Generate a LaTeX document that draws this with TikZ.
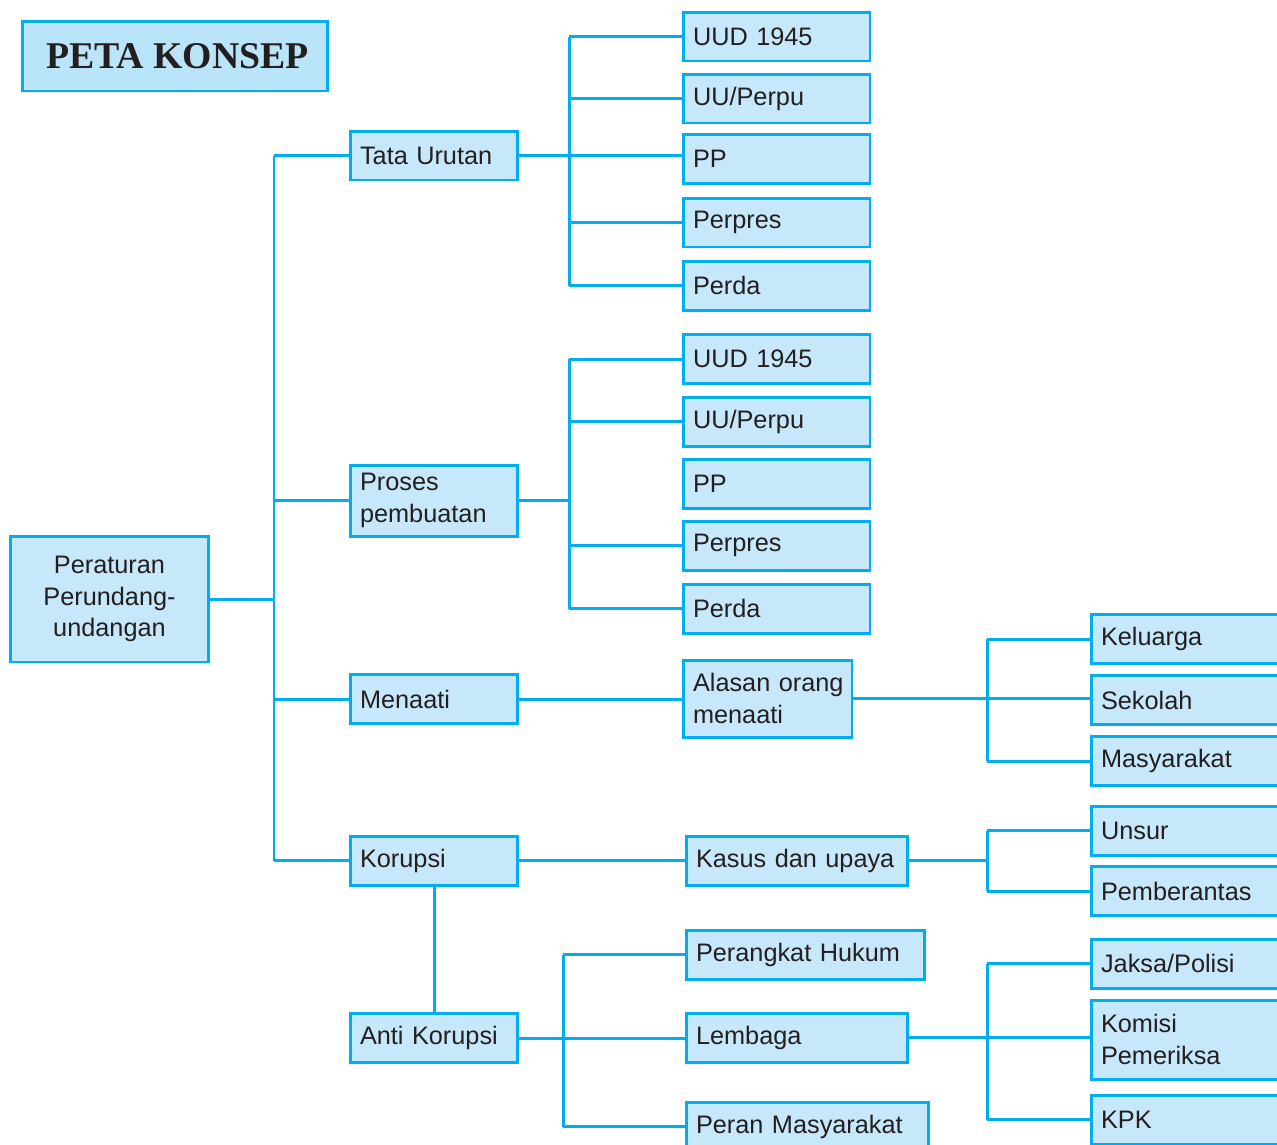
\documentclass[tikz,border=0pt]{standalone}
\usepackage{fontspec}
\setmainfont{Liberation Sans}
\newfontfamily\titlefont{Liberation Serif}
\definecolor{kbiru}{HTML}{00AEEF}
\definecolor{kisi}{HTML}{C6E8FA}
\definecolor{kjudul}{HTML}{BAE5F9}
\definecolor{kteks}{HTML}{231F20}

\begin{document}
\begin{tikzpicture}[x=0.02cm,y=-0.02cm,
	kotak/.style={draw=kbiru,fill=kisi,line width=1.7pt,inner xsep=0.2cm,inner ysep=0pt,
		align=left,text=kteks,font=\fontsize{14.4}{18}\selectfont,minimum height=0.98cm},
	garis/.style={draw=kbiru,line width=1.7pt}]

		\useasboundingbox (0,0) rectangle (1277,1144);
		\clip (0,0) rectangle (1277,1144);

		%------------------------------------------------------
		\node[draw=kbiru,fill=kjudul,line width=1.7pt,minimum width=6.12cm,minimum height=1.4cm,
			text=kteks,font=\titlefont\bfseries\fontsize{21.5}{24}\selectfont] (judul) at (175,56) {\hspace{0.1cm}PETA KONSEP};
		\node[kotak,align=center,text width=3.58cm,minimum height=2.52cm] (akar) at (109.5,599) {Peraturan\\Perundang-\\undangan};
		%------------------------------------------------------


		%------------------------------------------------------
		\node[kotak,text width=2.96cm] (tata) at (434,155.5) {Tata Urutan};
		\node[kotak,text width=2.96cm,minimum height=1.42cm] (proses) at (434,500.5) {Proses\\pembuatan};
		\node[kotak,text width=2.96cm] (menaati) at (434,699) {Menaati};
		\node[kotak,text width=2.96cm] (korupsi) at (434,860.5) {Korupsi};
		\node[kotak,text width=2.96cm] (anti) at (434,1038) {Anti Korupsi};

		\coordinate (jA) at (274,0);
		\draw[garis] (akar.east) -- (akar.east -| jA);
		\draw[garis] (tata.west -| jA) -- (korupsi.west -| jA);
		\foreach \n in {tata,proses,menaati,korupsi}
			\draw[garis] (\n.west) -- (\n.west -| jA);
		%------------------------------------------------------


		%------------------------------------------------------
		\node[kotak,text width=3.34cm] (uud1) at (776.5,36.5) {UUD 1945};
		\node[kotak,text width=3.34cm] (uu1) at (776.5,98.5) {UU/Perpu};
		\node[kotak,text width=3.34cm] (pp1) at (776.5,159) {PP};
		\node[kotak,text width=3.34cm] (perpres1) at (776.5,222.5) {Perpres};
		\node[kotak,text width=3.34cm] (perda1) at (776.5,285.5) {Perda};

		\coordinate (jB) at (569,0);
		\draw[garis] (tata.east) -- (tata.east -| pp1.west);
		\draw[garis] (uud1.west -| jB) -- (perda1.west -| jB);
		\foreach \n in {uud1,uu1,perpres1,perda1}
			\draw[garis] (\n.west) -- (\n.west -| jB);
		%------------------------------------------------------


		%------------------------------------------------------
		\node[kotak,text width=3.34cm] (uud2) at (776.5,359) {UUD 1945};
		\node[kotak,text width=3.34cm] (uu2) at (776.5,421.5) {UU/Perpu};
		\node[kotak,text width=3.34cm] (pp2) at (776.5,483.5) {PP};
		\node[kotak,text width=3.34cm] (perpres2) at (776.5,545.5) {Perpres};
		\node[kotak,text width=3.34cm] (perda2) at (776.5,608.5) {Perda};

		\draw[garis] (proses.east) -- (proses.east -| jB);
		\draw[garis] (uud2.west -| jB) -- (perda2.west -| jB);
		\foreach \n in {uud2,uu2,perpres2,perda2}
			\draw[garis] (\n.west) -- (\n.west -| jB);
		%------------------------------------------------------


		%------------------------------------------------------
		\node[kotak,text width=2.98cm,minimum height=1.54cm] (alasan) at (767.5,698.5) {Alasan~orang\\menaati};
		\node[kotak,text width=3.6cm] (keluarga) at (1191,639) {Keluarga};
		\node[kotak,text width=3.6cm] (sekolah) at (1191,700) {Sekolah};
		\node[kotak,text width=3.6cm] (masyarakat) at (1191,761) {Masyarakat};

		\coordinate (jC) at (987,0);
		\draw[garis] (menaati.east) -- (menaati.east -| alasan.west);
		\draw[garis] (alasan.east) -- (alasan.east -| sekolah.west);
		\draw[garis] (keluarga.west -| jC) -- (masyarakat.west -| jC);
		\foreach \n in {keluarga,masyarakat}
			\draw[garis] (\n.west) -- (\n.west -| jC);
		%------------------------------------------------------


		%------------------------------------------------------
		\node[kotak,text width=4.04cm] (kasus) at (797,860.5) {Kasus dan upaya};
		\node[kotak,text width=3.6cm] (unsur) at (1191,830.5) {Unsur};
		\node[kotak,text width=3.6cm] (berantas) at (1191,891) {Pemberantas};

		\draw[garis] (korupsi.east) -- (korupsi.east -| kasus.west);
		\draw[garis] (kasus.east) -- (kasus.east -| jC);
		\draw[garis] (unsur.west -| jC) -- (berantas.west -| jC);
		\foreach \n in {unsur,berantas}
			\draw[garis] (\n.west) -- (\n.west -| jC);
		\draw[garis] (korupsi.south) -- (anti.north);
		%------------------------------------------------------


		%------------------------------------------------------
		\node[kotak,text width=4.38cm] (perangkat) at (805.5,954.5) {Perangkat Hukum};
		\node[kotak,text width=4.04cm] (lembaga) at (797,1037.5) {Lembaga};
		\node[kotak,text width=4.46cm] (peran) at (807.5,1126.5) {Peran Masyarakat};

		\coordinate (jD) at (563,0);
		\draw[garis] (anti.east) -- (anti.east -| lembaga.west);
		\draw[garis] (perangkat.west -| jD) -- (peran.west -| jD);
		\foreach \n in {perangkat,peran}
			\draw[garis] (\n.west) -- (\n.west -| jD);
		%------------------------------------------------------


		%------------------------------------------------------
		\node[kotak,text width=3.6cm] (jaksa) at (1191,963.5) {Jaksa/Polisi};
		\node[kotak,text width=3.6cm,minimum height=1.58cm] (komisi) at (1191,1039.5) {Komisi\\Pemeriksa};
		\node[kotak,text width=3.6cm] (kpk) at (1191,1119.5) {KPK};

		\draw[garis] (lembaga.east) -- (lembaga.east -| komisi.west);
		\draw[garis] (jaksa.west -| jC) -- (kpk.west -| jC);
		\foreach \n in {jaksa,kpk}
			\draw[garis] (\n.west) -- (\n.west -| jC);
		%------------------------------------------------------

	\end{tikzpicture}
\end{document}
